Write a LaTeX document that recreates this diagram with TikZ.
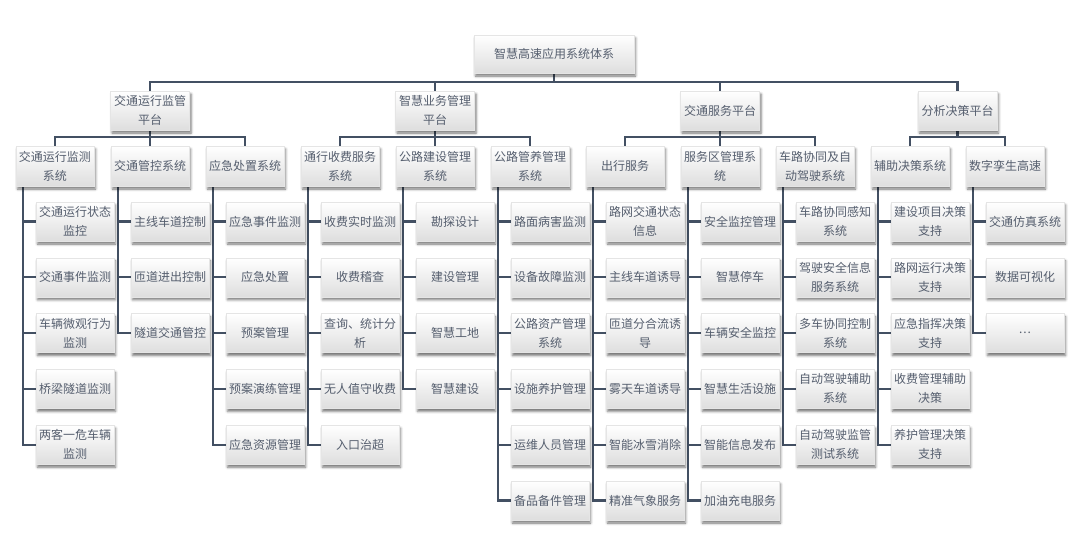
\documentclass[tikz,border=0pt]{standalone}
\usepackage{fontspec}
\setmainfont{Noto Sans CJK SC}
\usetikzlibrary{shadows.blur,backgrounds}
\definecolor{linec}{HTML}{435063}
\definecolor{txtc}{HTML}{555E6E}
\begin{document}
\begin{tikzpicture}[x=1pt,y=-1pt,
  box/.style={draw=black!10, line width=0.4pt, top color=white, bottom color=black!13,
    minimum width=78pt, minimum height=39pt, inner sep=0pt, align=center, text=txtc,
    font=\fontsize{12}{19}\selectfont,
    blur shadow={shadow xshift=1.5pt, shadow yshift=-3pt, shadow blur radius=2.5pt, shadow blur steps=4, shadow opacity=55}},
  conn/.style={draw=linec, line width=2.1pt}]
\useasboundingbox (0,0) rectangle (1080,555);
% root and platforms
\node[box, minimum width=160pt, minimum height=38pt] (root) at (554,54) {智慧高速应用系统体系};
\node[box, minimum width=79pt] (p1) at (150,110.5) {交通运行监管\\平台};
\node[box, minimum width=79pt] (p2) at (435,110.5) {智慧业务管理\\平台};
\node[box, minimum width=79pt] (p3) at (720,110.5) {交通服务平台};
\node[box, minimum width=79pt] (p4) at (957.5,110.5) {分析决策平台};
% systems
\foreach \txt [count=\i] in {{交通运行监测\\系统},交通管控系统,应急处置系统,{通行收费服务\\系统},{公路建设管理\\系统},{公路管养管理\\系统},出行服务,{服务区管理系\\统},{车路协同及自\\动驾驶系统},辅助决策系统,数字孪生高速}
  \node[box, minimum height=40pt] (s\i) at ({55+95*(\i-1)},166) {\txt};
% leaves
\foreach \txt [count=\j] in {{交通运行状态\\监控},交通事件监测,{车辆微观行为\\监测},桥梁隧道监测,{两客一危车辆\\监测}}
  \node[box] (c1-\j) at (75,{221.5+55.8*(\j-1)}) {\txt};
\foreach \txt [count=\j] in {主线车道控制,匝道进出控制,隧道交通管控}
  \node[box] (c2-\j) at (170,{221.5+55.8*(\j-1)}) {\txt};
\foreach \txt [count=\j] in {应急事件监测,应急处置,预案管理,预案演练管理,应急资源管理}
  \node[box] (c3-\j) at (265,{221.5+55.8*(\j-1)}) {\txt};
\foreach \txt [count=\j] in {收费实时监测,收费稽查,{查询、统计分\\析},无人值守收费,入口治超}
  \node[box] (c4-\j) at (360,{221.5+55.8*(\j-1)}) {\txt};
\foreach \txt [count=\j] in {勘探设计,建设管理,智慧工地,智慧建设}
  \node[box] (c5-\j) at (455,{221.5+55.8*(\j-1)}) {\txt};
\foreach \txt [count=\j] in {路面病害监测,设备故障监测,{公路资产管理\\系统},设施养护管理,运维人员管理,备品备件管理}
  \node[box] (c6-\j) at (550,{221.5+55.8*(\j-1)}) {\txt};
\foreach \txt [count=\j] in {{路网交通状态\\信息},主线车道诱导,{匝道分合流诱\\导},雾天车道诱导,智能冰雪消除,精准气象服务}
  \node[box] (c7-\j) at (645,{221.5+55.8*(\j-1)}) {\txt};
\foreach \txt [count=\j] in {安全监控管理,智慧停车,车辆安全监控,智慧生活设施,智能信息发布,加油充电服务}
  \node[box] (c8-\j) at (740,{221.5+55.8*(\j-1)}) {\txt};
\foreach \txt [count=\j] in {{车路协同感知\\系统},{驾驶安全信息\\服务系统},{多车协同控制\\系统},{自动驾驶辅助\\系统},{自动驾驶监管\\测试系统}}
  \node[box] (c9-\j) at (835,{221.5+55.8*(\j-1)}) {\txt};
\foreach \txt [count=\j] in {{建设项目决策\\支持},{路网运行决策\\支持},{应急指挥决策\\支持},{收费管理辅助\\决策},{养护管理决策\\支持}}
  \node[box] (c10-\j) at (930,{221.5+55.8*(\j-1)}) {\txt};
\node[box] (c11-1) at (1025,221.5) {交通仿真系统};
\node[box] (c11-2) at (1025,277.3) {数据可视化};
\node[box] (c11-3) at (1025,333.1) {.\kern1pt.\kern1pt.};
% connectors
\begin{scope}[on background layer]
  \foreach \p in {p1,p2,p3,p4}
    \draw[conn] (root.south) -- ++(0,9) -| (\p.north);
  \foreach \s in {s1,s2,s3} \draw[conn] (p1.south) -- ++(0,6.5) -| (\s.north);
  \foreach \s in {s4,s5,s6} \draw[conn] (p2.south) -- ++(0,6.5) -| (\s.north);
  \foreach \s in {s7,s8,s9} \draw[conn] (p3.south) -- ++(0,6.5) -| (\s.north);
  \foreach \s in {s10,s11} \draw[conn] (p4.south) -- ++(0,6.5) -| (\s.north);
  \foreach \c/\k in {1/5,2/3,3/5,4/5,5/4,6/6,7/6,8/6,9/5,10/5,11/3}
    \foreach \j in {1,...,\k}
      \draw[conn] ([xshift=7.5pt]s\c.south west) |- (c\c-\j.west);
\end{scope}
\end{tikzpicture}
\end{document}
